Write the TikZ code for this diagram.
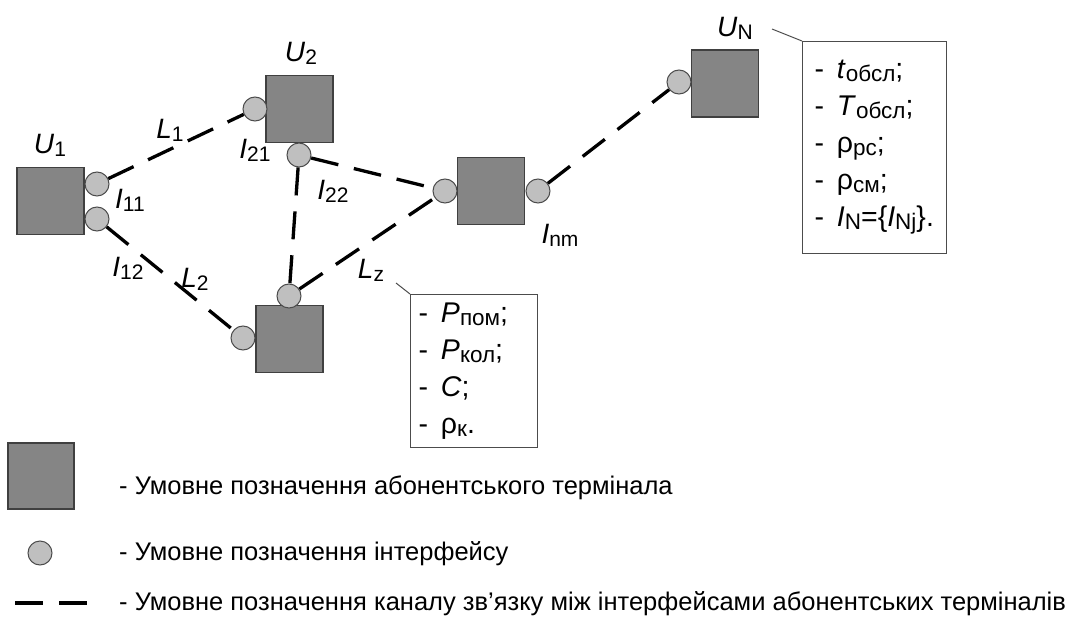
\documentclass[tikz,border=0pt]{standalone}
\usepackage{fontspec}
\setmainfont{Liberation Sans}
\newcommand\sub[1]{\raisebox{-3pt}{\fontsize{21}{21}\selectfont #1}}
\newcommand\bsub[1]{\raisebox{-3pt}{\fontsize{22.5}{22.5}\selectfont #1}}
\newcommand\itm{-\hspace{13pt}}
\begin{document}
\begin{tikzpicture}[x=1pt,y=-1pt,
  term/.style={draw=black!75,line width=1.3pt,fill=black!48,minimum size=67pt,inner sep=0pt},
  iface/.style={circle,draw=black!70,line width=1pt,fill=black!25,minimum size=24pt,inner sep=0pt},
  chan/.style={line width=3.3pt,dash pattern=on 28pt off 16pt},
  lab/.style={font=\fontsize{28}{30}\selectfont,inner sep=0pt},
  info/.style={draw=black!70,line width=1pt,anchor=north west,align=left,
    font=\fontsize{28.5}{37}\selectfont},
  legend/.style={anchor=west,inner sep=0pt,font=\fontsize{25.5}{27}\selectfont},
  leader/.style={draw=black!70,line width=1pt}]
\useasboundingbox (0,0) rectangle (1069,618);

% subscriber terminals
\node[term] (u1) at (50.5,201) {};
\node[term] (u2) at (299.5,109) {};
\node[term] (u3) at (289.5,339) {};
\node[term] (unm) at (491,191) {};
\node[term] (uN) at (725,83.5) {};

% interfaces
\node[iface] (c11) at (97,184) {};
\node[iface] (c12) at (97,219) {};
\node[iface] (c21) at (255,109) {};
\node[iface] (c22) at (299,155) {};
\node[iface] (c3t) at (289,296) {};
\node[iface] (c3l) at (243,338) {};
\node[iface] (cml) at (445,191) {};
\node[iface] (cmr) at (538,191) {};
\node[iface] (cN) at (679,82) {};

% communication channels
\draw[chan] (c11) -- (c21);
\draw[chan] (c12) -- (c3l);
\draw[chan] (c22) -- (c3t);
\draw[chan] (c22) -- (cml);
\draw[chan] (c3t) -- (cml);
\draw[chan] (cmr) -- (cN);

% labels
\node[lab] (tu1) at (50,145) {\textit{U}\sub{1}};
\node[lab] (tu2) at (301,53) {\textit{U}\sub{2}};
\node[lab] (tuN) at (735,28) {\textit{U}\sub{N}};
\node[lab] (tl1) at (170,130) {\textit{L}\sub{1}};
\node[lab] (tl2) at (195,279) {\textit{L}\sub{2}};
\node[lab] (tlz) at (371,270) {\textit{L}\sub{z}};
\node[lab] (ti11) at (130,200) {\textit{I}\sub{11}};
\node[lab] (ti12) at (128,268) {\textit{I}\sub{12}};
\node[lab] (ti21) at (255,150) {\textit{I}\sub{21}};
\node[lab] (ti22) at (333,191) {\textit{I}\sub{22}};
\node[lab] (tinm) at (560,235) {\textit{I}\sub{nm}};

% parameter boxes
\node[info,inner xsep=8pt,text width=111pt,minimum height=153pt] (boxz) at (410,294)
  {\itm\textit{P}\bsub{пом};\\\itm\textit{P}\bsub{кол};\\\itm\textit{C};\\\itm ρ\bsub{к}.};
\node[info,inner xsep=12pt,text width=120pt,minimum height=212pt] (boxN) at (802,41)
  {\itm\textit{t}\bsub{обсл};\\\itm\textit{T}\bsub{обсл};\\\itm ρ\bsub{рс};\\\itm ρ\bsub{см};\\\itm\textit{I}\bsub{N}=\{\textit{I}\bsub{Nj}\}.};
\coordinate (pz) at (396,283);
\coordinate (pN) at (772,29);
\draw[leader] (pz) -- (boxz.north west);
\draw[leader] (pN) -- (boxN.north west);

% legend
\node[term,minimum size=66pt] (lsq) at (41,476) {};
\node[iface] (lci) at (40,553) {};
\coordinate (ld1) at (15,603);
\coordinate (ld2) at (91,603);
\draw[chan] (ld1) -- (ld2);
\node[legend] (lt1) at (119,488) {- Умовне позначення абонентського термінала};
\node[legend] (lt2) at (119,554) {- Умовне позначення інтерфейсу};
\node[legend] (lt3) at (119,604) {- Умовне позначення каналу зв'язку між інтерфейсами абонентських терміналів};
\end{tikzpicture}
\end{document}
